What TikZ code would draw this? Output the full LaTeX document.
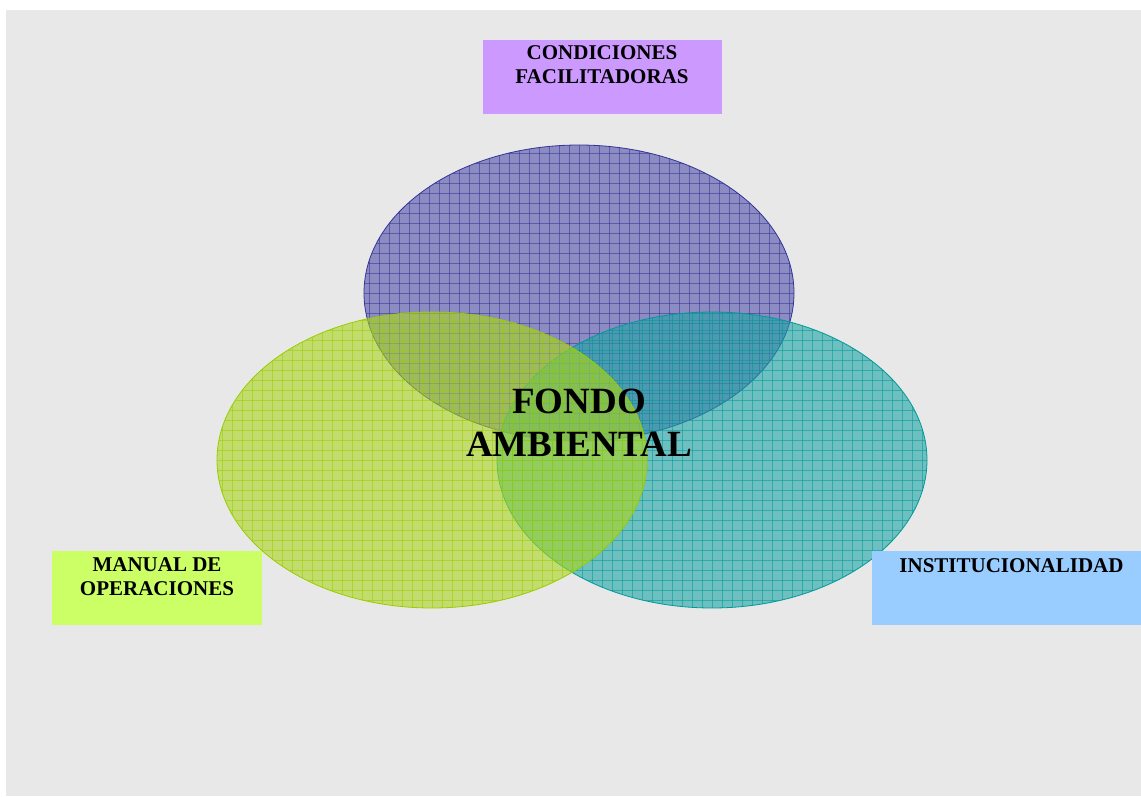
\documentclass[tikz,border=0pt]{standalone}
\usepackage{fontspec}
\setmainfont{Liberation Serif}
\begin{document}
\begin{tikzpicture}[x=1pt,y=-1pt,
  labelbox/.style={draw=none,inner sep=0pt,anchor=north west},
  labeltext/.style={inner sep=0pt,anchor=base,align=center,
    font=\bfseries\fontsize{21}{24}\selectfont},
  ringfill/.style={fill opacity=0.6},
  gridline/.style={line width=0.7pt,opacity=0.55}]
\definecolor{bgray}{RGB}{232,232,232}
\definecolor{purpleA}{RGB}{80,80,170}
\definecolor{purpleL}{RGB}{51,51,153}
\definecolor{greenA}{RGB}{170,215,29}
\definecolor{greenL}{RGB}{153,204,0}
\definecolor{tealA}{RGB}{30,164,164}
\definecolor{tealL}{RGB}{0,153,153}
\definecolor{boxlilac}{RGB}{204,153,255}
\definecolor{boxlime}{RGB}{204,255,102}
\definecolor{boxsky}{RGB}{153,204,255}

\useasboundingbox (0,0) rectangle (1141,797);
\fill[white] (0,0) rectangle (1141,797);
\fill[bgray] (6,10) rectangle (1141,796);

% three overlapping ellipses, each with a fine grid texture
\foreach \cx/\cy/\fc/\lc in {579/293/purpleA/purpleL, 712/460/tealA/tealL, 432/460/greenA/greenL}{
  \fill[\fc,ringfill] (\cx,\cy) ellipse [x radius=215, y radius=148];
  \begin{scope}
    \clip (\cx,\cy) ellipse [x radius=215, y radius=148];
    \foreach \d in {-220,-210,...,220}{
      \draw[\lc,gridline] (\cx+\d,\cy-150) -- (\cx+\d,\cy+150);
    }
    \foreach \d in {-150,-140,...,150}{
      \draw[\lc,gridline] (\cx-220,\cy+\d) -- (\cx+220,\cy+\d);
    }
  \end{scope}
  \draw[\lc,line width=0.8pt] (\cx,\cy) ellipse [x radius=215, y radius=148];
}

% label boxes
\node[labelbox,fill=boxlilac,minimum width=239,minimum height=74] (cfbox) at (483,40) {};
\node[labeltext] (cf) at (602,84) {CONDICIONES\\FACILITADORAS};

\node[labelbox,fill=boxlime,minimum width=210,minimum height=74] (mobox) at (52,551) {};
\node[labeltext] (mo) at (157,595) {MANUAL DE\\OPERACIONES};

\node[labelbox,fill=boxsky,minimum width=269,minimum height=74] (inbox) at (872,551) {};
\node[labeltext] (in) at (1011.5,572) {INSTITUCIONALIDAD};

% central title
\node[inner sep=0pt,anchor=base,align=center,
  font=\bfseries\fontsize{37}{43}\selectfont] (fa) at (579,456) {FONDO\\AMBIENTAL};
\end{tikzpicture}
\end{document}
